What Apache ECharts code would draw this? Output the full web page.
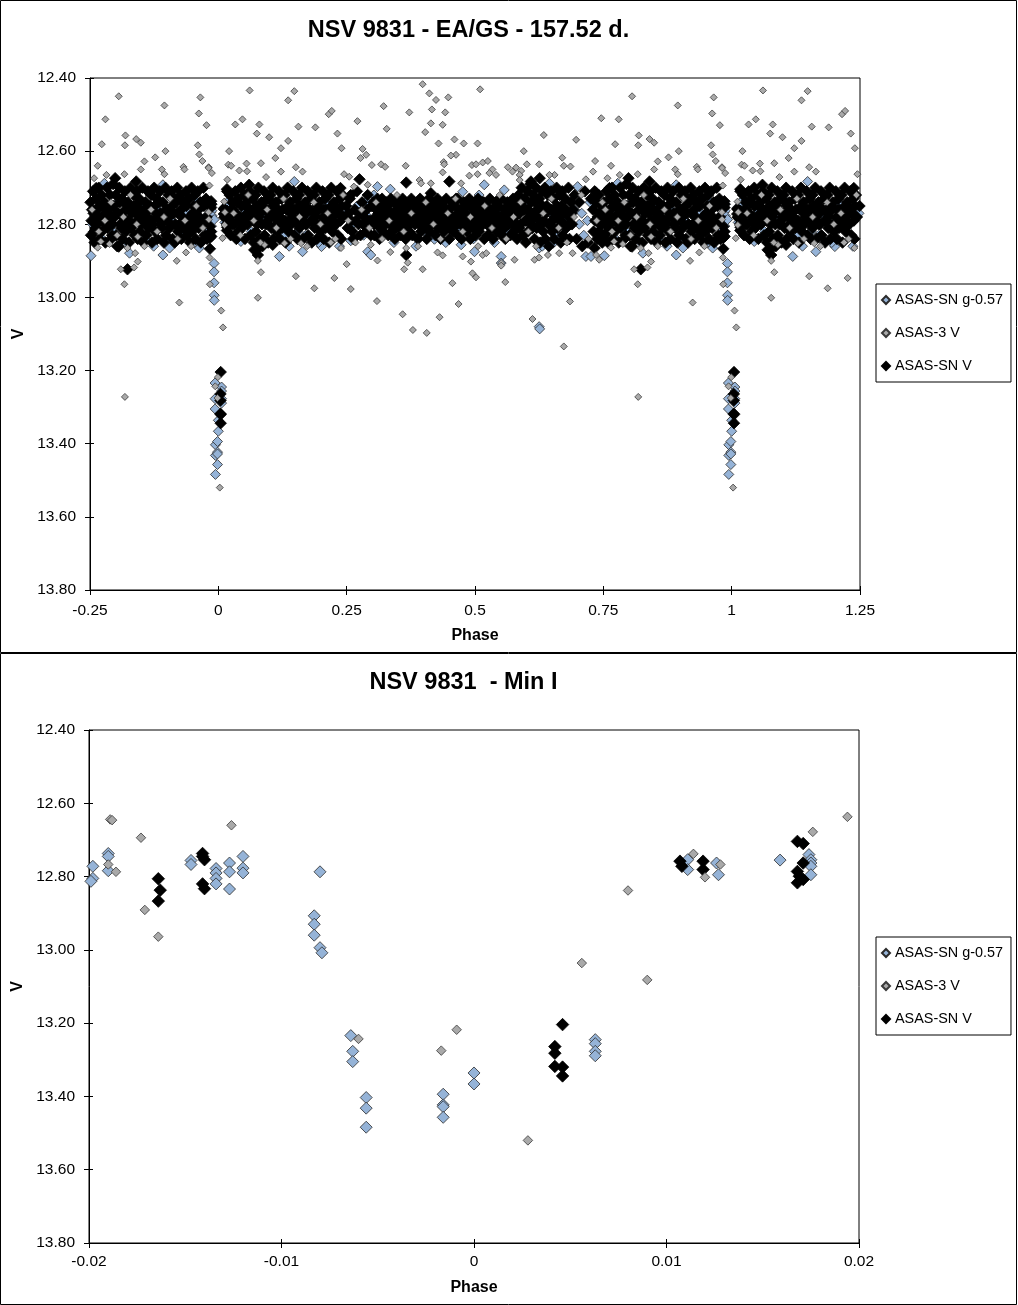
<!DOCTYPE html>
<html><head><meta charset="utf-8">
<script src="https://cdn.jsdelivr.net/npm/echarts@6/dist/echarts.min.js"></script>
<style>html,body{margin:0;padding:0;background:#fff}#c{width:1018px;height:1305px}</style>
</head><body><div id="c"></div>
<script>
const seriesNames = ['ASAS-SN g-0.57', 'ASAS-3 V', 'ASAS-SN V'];
const topTitle = 'NSV 9831 - EA/GS - 157.52 d.';
const bottomTitle = 'NSV 9831  - Min I';
const xName = 'Phase';
const yName = 'V';

// ---- ASAS-SN g-0.57 (phase, mag) ----
const blueMin = [
[-0.0198,12.772],[-0.0198,12.805],[-0.0199,12.813],[-0.0190,12.737],[-0.0190,12.745],[-0.0190,12.784],
[-0.0147,12.756],[-0.0147,12.767],[-0.0134,12.778],[-0.0134,12.790],[-0.0134,12.805],[-0.0134,12.820],
[-0.0127,12.763],[-0.0127,12.787],[-0.0127,12.834],[-0.0120,12.745],[-0.0120,12.777],[-0.0120,12.790],
[-0.0080,12.787],[-0.0083,12.907],[-0.0083,12.930],[-0.0083,12.960],[-0.0080,12.994],[-0.0079,13.008],
[-0.0064,13.234],[-0.0063,13.277],[-0.0063,13.305],[-0.0056,13.403],[-0.0056,13.432],[-0.0056,13.484],
[-0.0016,13.394],[-0.0016,13.423],[-0.0016,13.428],[-0.0016,13.457],[0.0000,13.336],[0.0000,13.366],
[0.0063,13.245],[0.0063,13.256],[0.0063,13.277],[0.0063,13.289],[0.0111,12.754],[0.0111,12.781],
[0.0126,12.763],[0.0127,12.795],[0.0159,12.755],[0.0174,12.740],[0.0175,12.754],[0.0175,12.763],
[0.0175,12.772],[0.0175,12.795]
];
const blueOut = [
[-0.248,12.886],[-0.222,12.688],[-0.108,12.692],[-0.141,12.843],[-0.108,12.884],[-0.095,12.865],
[-0.173,12.879],[-0.037,12.865],[-0.031,12.847],[0.119,12.888],[0.148,12.683],[0.164,12.875],
[0.201,12.861],[0.258,12.845],[0.291,12.875],[0.297,12.884],[0.310,12.697],[0.335,12.704],
[0.288,12.738],[0.421,12.841],[0.473,12.856],[0.499,12.875],[0.476,12.711],[0.129,12.829],
[0.155,12.820],[0.044,12.847],[0.077,12.865],[-0.138,12.711],[0.518,12.692],[0.551,12.888],
[0.551,12.906],[0.557,12.706],[0.625,12.865],[0.645,12.688],[0.652,12.852],[0.716,12.888],
[0.726,12.888],[0.736,12.711],[0.700,12.697],[0.625,13.080],[0.626,13.086]
];
const blueBand = [
[-0.245,12.80],[-0.232,12.76],[-0.226,12.84],[-0.214,12.78],[-0.205,12.82],[-0.196,12.74],[-0.186,12.80],
[-0.178,12.85],[-0.168,12.77],[-0.155,12.83],[-0.147,12.74],[-0.133,12.80],[-0.126,12.86],[-0.117,12.76],
[-0.101,12.84],[-0.090,12.79],[-0.083,12.73],[-0.071,12.82],[-0.059,12.77],[-0.047,12.85],[-0.041,12.74],
[-0.028,12.80],[0.028,12.79],[0.036,12.84],[0.050,12.76],[0.064,12.82],[0.085,12.78],[0.097,12.85],
[0.108,12.74],[0.125,12.80],[0.138,12.86],[0.145,12.76],[0.170,12.83],[0.182,12.78],[0.195,12.85],
[0.208,12.74],[0.224,12.81],[0.236,12.86],[0.248,12.77],[0.262,12.80],[0.270,12.75],[0.283,12.83],
[0.292,12.78],[0.303,12.72],[0.315,12.82],[0.328,12.77],[0.342,12.85],[0.356,12.74],[0.371,12.80],
[0.385,12.86],[0.398,12.76],[0.409,12.83],[0.425,12.78],[0.443,12.85],[0.458,12.74],[0.468,12.81],
[0.484,12.77],[0.497,12.84],[0.508,12.72],[0.522,12.80],[0.538,12.85],[0.546,12.76],[0.563,12.82],
[0.578,12.78],[0.594,12.84],[0.603,12.74],[0.617,12.80],[0.631,12.86],[0.647,12.77],[0.661,12.83],
[0.676,12.79],[0.694,12.76],[0.703,12.80],[0.708,12.77],[0.712,12.83],[0.719,12.79],[0.724,12.74],
[0.739,12.82],[0.745,12.78]
];

// ---- ASAS-3 V ----
const greyMin = [
[-0.0189,12.644],[-0.0188,12.646],[-0.0190,12.767],[-0.0186,12.787],[-0.0173,12.694],[-0.0171,12.891],
[-0.0164,12.964],[-0.0126,12.660],[-0.0060,13.243],[-0.0017,13.275],[-0.0009,13.218],[0.0028,13.520],
[0.0056,13.036],[0.0080,12.838],[0.0090,13.082],[0.0114,12.738],[0.0120,12.802],[0.0128,12.767],
[0.0176,12.678],[0.0194,12.637]
];
const greyOut = [
[-0.194,12.450],[-0.220,12.513],[-0.227,12.581],[-0.181,12.557],[-0.182,12.584],[-0.160,12.567],
[-0.151,12.577],[-0.235,12.640],[-0.242,12.674],[-0.218,12.665],[-0.105,12.475],[-0.103,12.600],
[-0.123,12.617],[-0.144,12.628],[-0.151,12.650],[-0.110,12.650],[-0.105,12.663],[-0.183,12.663],
[-0.035,12.453],[-0.038,12.497],[-0.023,12.529],[-0.040,12.584],[-0.037,12.609],[-0.031,12.627],
[-0.068,12.643],[-0.066,12.650],[0.021,12.600],[0.025,12.640],[0.041,12.653],[0.055,12.634],
[0.056,12.655],[0.061,12.434],[0.033,12.527],[0.047,12.513],[0.080,12.527],[0.075,12.552],
[0.099,12.562],[0.136,12.461],[0.148,12.436],[0.156,12.533],[0.122,12.592],[0.136,12.572],
[0.111,12.619],[0.083,12.633],[0.122,12.656],[0.151,12.644],[0.164,12.656],[0.093,12.671],
[0.189,12.535],[0.215,12.499],[0.221,12.490],[0.232,12.552],[0.240,12.592],[0.271,12.518],
[0.281,12.594],[0.288,12.610],[0.277,12.619],[0.299,12.638],[0.317,12.636],[0.325,12.643],
[0.322,12.477],[0.328,12.539],[0.372,12.494],[0.365,12.640],[0.398,12.417],[0.411,12.442],
[0.424,12.460],[0.448,12.453],[0.416,12.486],[0.442,12.494],[0.414,12.524],[0.437,12.528],
[0.403,12.548],[0.429,12.579],[0.460,12.568],[0.478,12.579],[0.505,12.579],[0.463,12.610],
[0.453,12.612],[0.439,12.630],[0.440,12.636],[0.494,12.638],[0.502,12.636],[0.510,12.431],
[0.437,12.658],[0.489,12.667],[0.392,12.679],[0.395,12.688],[0.414,12.688],[0.245,12.663],
[0.255,12.670],[0.264,12.697],[0.291,12.692],[0.473,12.688],
[-0.235,12.864],[-0.229,12.847],[-0.212,12.854],[-0.190,12.923],[-0.164,12.918],[-0.157,12.902],
[-0.183,12.964],[-0.177,12.865],[-0.162,12.879],[-0.157,12.834],[-0.076,13.014],[-0.081,12.900],
[-0.063,12.877],[0.077,13.001],[0.083,12.931],[0.077,12.900],[0.151,12.942],[0.187,12.975],
[0.226,12.947],[0.250,12.909],[0.258,12.977],[0.309,13.010],[0.310,12.899],[0.335,12.876],
[0.359,13.046],[0.362,12.923],[0.369,12.905],[0.366,12.865],[0.398,12.923],[0.431,13.054],
[0.468,13.018],[0.456,12.961],[0.476,12.888],[0.492,12.902],[0.495,12.934],[0.427,12.877],
[0.437,12.885],[0.090,12.856],[0.129,12.852],[0.161,12.852],[0.219,12.850],[0.239,12.865],
[0.297,12.856],[-0.182,13.272],[0.379,13.089],[0.406,13.097],
[0.515,12.631],[0.525,12.627],[0.505,12.663],[0.534,12.650],[0.541,12.665],[0.528,12.660],
[0.564,12.644],[0.573,12.656],[0.580,12.645],[0.590,12.654],[0.587,12.665],[0.587,12.679],
[0.595,12.600],[0.601,12.636],[0.625,12.636],[0.634,12.556],[0.670,12.618],[0.673,12.640],
[0.686,12.642],[0.697,12.569],[0.716,12.677],[0.734,12.627],[0.730,12.656],[0.746,12.510],
[0.655,12.665],[0.645,12.665],[0.502,12.945],[0.559,12.958],[0.515,12.884],[0.522,12.879],
[0.551,12.906],[0.551,12.913],[0.577,12.897],[0.616,12.897],[0.625,12.891],[0.642,12.884],
[0.664,12.879],[0.685,13.011],[0.612,13.059],[0.673,13.134],[0.690,12.879],[0.742,12.897],
[0.736,12.884]
];
const greyBand = [
[-0.246,12.76],[-0.233,12.82],[-0.221,12.79],[-0.209,12.74],[-0.197,12.83],[-0.185,12.78],[-0.171,12.72],
[-0.159,12.80],[-0.144,12.86],[-0.131,12.76],[-0.119,12.82],[-0.106,12.78],[-0.094,12.73],[-0.079,12.84],
[-0.065,12.79],[-0.053,12.86],[-0.043,12.75],[-0.030,12.81],[0.030,12.77],[0.043,12.83],[0.058,12.72],
[0.069,12.79],[0.082,12.85],[0.095,12.76],[0.113,12.81],[0.127,12.73],[0.141,12.84],[0.158,12.78],
[0.173,12.86],[0.186,12.74],[0.199,12.80],[0.213,12.77],[0.228,12.84],[0.243,12.72],[0.253,12.79],
[0.267,12.85],[0.279,12.76],[0.294,12.81],[0.307,12.74],[0.319,12.84],[0.333,12.79],[0.348,12.72],
[0.361,12.82],[0.376,12.77],[0.389,12.86],[0.404,12.74],[0.419,12.80],[0.433,12.84],[0.447,12.77],
[0.462,12.73],[0.476,12.82],[0.491,12.78],[0.506,12.86],[0.519,12.75],[0.533,12.81],[0.548,12.72],
[0.561,12.84],[0.575,12.78],[0.589,12.74],[0.604,12.82],[0.619,12.86],[0.633,12.77],[0.649,12.73],
[0.663,12.81],[0.679,12.85],[0.693,12.78],[0.707,12.72],[0.721,12.84],[0.737,12.79],[0.748,12.74]
];

// ---- ASAS-SN V ----
const blackMin = [
[-0.0164,12.806],[-0.0163,12.837],[-0.0164,12.867],[-0.0141,12.737],[-0.0141,12.745],[-0.0140,12.754],
[-0.0141,12.820],[-0.0140,12.833],[0.0042,13.264],[0.0042,13.282],[0.0042,13.318],[0.0046,13.204],
[0.0046,13.320],[0.0046,13.344],[0.0107,12.758],[0.0108,12.772],[0.0119,12.758],[0.0119,12.781],
[0.0168,12.704],[0.0171,12.710],[0.0171,12.763],[0.0168,12.786],[0.0169,12.799],[0.0168,12.817],
[0.0171,12.808]
];
const blackOut = [
[-0.201,12.674],[-0.160,12.683],[-0.177,12.923],[-0.194,12.861],[0.060,12.692],[0.070,12.870],
[0.077,12.884],[0.106,12.856],[0.275,12.677],[0.238,12.701],[0.258,12.720],[0.366,12.686],
[0.366,12.884],[0.414,12.715],[0.450,12.683],[-0.238,12.701],[0.626,12.674],[0.609,12.683],
[0.733,12.865]
];
const blackBand = [
[-0.249,12.74],[-0.247,12.79],[-0.248,12.83],[-0.244,12.71],[-0.243,12.77],[-0.242,12.82],[-0.241,12.85],
[-0.238,12.73],[-0.236,12.80],[-0.237,12.76],[-0.233,12.70],[-0.231,12.75],[-0.232,12.84],
[-0.228,12.72],[-0.226,12.79],[-0.227,12.82],[-0.222,12.74],[-0.221,12.77],[-0.220,12.85],
[-0.217,12.70],[-0.215,12.76],[-0.216,12.81],[-0.211,12.72],[-0.210,12.78],[-0.209,12.84],
[-0.205,12.69],[-0.204,12.75],[-0.206,12.80],[-0.200,12.72],[-0.198,12.77],[-0.199,12.83],[-0.197,12.86],
[-0.193,12.70],[-0.192,12.74],[-0.191,12.80],[-0.188,12.73],[-0.186,12.78],[-0.187,12.84],
[-0.182,12.71],[-0.181,12.76],[-0.180,12.82],[-0.176,12.74],[-0.175,12.79],[-0.174,12.85],
[-0.171,12.70],[-0.169,12.77],[-0.170,12.81],[-0.165,12.72],[-0.164,12.75],[-0.163,12.83],
[-0.159,12.71],[-0.158,12.79],[-0.157,12.84],[-0.154,12.73],[-0.152,12.76],[-0.153,12.82],
[-0.148,12.70],[-0.147,12.78],[-0.146,12.85],[-0.142,12.74],[-0.141,12.80],[-0.140,12.83],
[-0.137,12.71],[-0.135,12.76],[-0.136,12.81],[-0.131,12.72],[-0.130,12.79],[-0.129,12.85],
[-0.125,12.70],[-0.124,12.75],[-0.123,12.82],[-0.120,12.73],[-0.118,12.78],[-0.119,12.84],
[-0.114,12.71],[-0.113,12.77],[-0.112,12.80],[-0.108,12.74],[-0.107,12.79],[-0.106,12.85],
[-0.103,12.70],[-0.101,12.76],[-0.102,12.83],[-0.097,12.72],[-0.096,12.78],[-0.095,12.81],
[-0.091,12.71],[-0.090,12.75],[-0.089,12.84],[-0.086,12.73],[-0.084,12.80],[-0.085,12.85],
[-0.080,12.70],[-0.079,12.77],[-0.078,12.82],[-0.074,12.72],[-0.073,12.76],[-0.072,12.84],
[-0.069,12.74],[-0.067,12.79],[-0.068,12.81],[-0.063,12.71],[-0.062,12.75],[-0.061,12.83],
[-0.057,12.73],[-0.056,12.78],[-0.055,12.85],[-0.052,12.70],[-0.050,12.77],[-0.051,12.82],
[-0.046,12.72],[-0.045,12.80],[-0.044,12.84],[-0.040,12.71],[-0.039,12.76],[-0.038,12.81],
[-0.035,12.74],[-0.033,12.79],[-0.034,12.85],[-0.029,12.70],[-0.028,12.75],[-0.027,12.83],
[-0.024,12.73],[-0.023,12.78],[-0.022,12.84],
[0.022,12.72],[0.023,12.78],[0.024,12.83],[0.027,12.74],[0.028,12.80],[0.029,12.76],
[0.033,12.71],[0.034,12.77],[0.035,12.84],[0.038,12.73],[0.040,12.79],[0.039,12.82],
[0.044,12.70],[0.045,12.75],[0.046,12.81],[0.050,12.72],[0.051,12.78],[0.052,12.84],
[0.055,12.74],[0.057,12.80],[0.056,12.77],[0.061,12.71],[0.062,12.76],[0.063,12.83],
[0.067,12.73],[0.068,12.79],[0.069,12.85],[0.072,12.72],[0.074,12.75],[0.073,12.82],[0.075,12.87],
[0.078,12.70],[0.079,12.78],[0.080,12.84],[0.084,12.74],[0.085,12.80],[0.086,12.86],
[0.089,12.71],[0.091,12.76],[0.090,12.83],[0.095,12.73],[0.096,12.79],[0.097,12.85],
[0.101,12.72],[0.102,12.77],[0.103,12.81],[0.106,12.70],[0.108,12.75],[0.107,12.84],
[0.112,12.74],[0.113,12.80],[0.114,12.82],[0.118,12.71],[0.119,12.78],[0.120,12.84],
[0.123,12.73],[0.125,12.76],[0.124,12.81],[0.129,12.72],[0.130,12.79],[0.131,12.85],
[0.135,12.70],[0.136,12.75],[0.137,12.82],[0.140,12.74],[0.142,12.80],[0.141,12.77],
[0.146,12.71],[0.147,12.76],[0.148,12.83],[0.152,12.73],[0.153,12.79],[0.154,12.84],
[0.157,12.72],[0.159,12.75],[0.158,12.81],[0.163,12.70],[0.164,12.78],[0.165,12.84],
[0.169,12.74],[0.170,12.80],[0.171,12.77],[0.174,12.71],[0.176,12.76],[0.175,12.83],
[0.180,12.73],[0.181,12.79],[0.182,12.85],[0.186,12.72],[0.187,12.77],[0.188,12.81],
[0.191,12.70],[0.193,12.75],[0.192,12.84],[0.197,12.74],[0.198,12.80],[0.199,12.82],
[0.203,12.71],[0.204,12.78],[0.205,12.84],[0.208,12.73],[0.210,12.76],[0.209,12.81],
[0.214,12.72],[0.215,12.79],[0.216,12.85],[0.220,12.70],[0.221,12.75],[0.222,12.82],
[0.225,12.74],[0.227,12.80],[0.226,12.77],[0.231,12.71],[0.232,12.76],[0.233,12.83],
[0.237,12.73],[0.238,12.79],[0.239,12.84],[0.242,12.72],[0.244,12.78],
[0.249,12.75],[0.252,12.81],[0.256,12.73],[0.259,12.79],[0.263,12.84],[0.266,12.76],[0.270,12.71],
[0.273,12.80],[0.277,12.83],[0.280,12.74],[0.284,12.78],[0.288,12.82],[0.291,12.72],[0.295,12.79],[0.299,12.75],
[0.302,12.74],[0.303,12.80],[0.304,12.83],[0.308,12.76],[0.309,12.79],[0.310,12.73],
[0.313,12.75],[0.315,12.81],[0.314,12.84],[0.319,12.73],[0.320,12.78],[0.321,12.82],
[0.325,12.76],[0.326,12.80],[0.327,12.74],[0.330,12.75],[0.332,12.79],[0.331,12.83],
[0.336,12.73],[0.337,12.77],[0.338,12.82],[0.342,12.74],[0.343,12.80],[0.344,12.84],
[0.347,12.76],[0.349,12.78],[0.348,12.73],[0.353,12.75],[0.354,12.81],[0.355,12.83],
[0.359,12.73],[0.360,12.79],[0.361,12.76],[0.364,12.74],[0.366,12.80],[0.365,12.84],
[0.370,12.75],[0.371,12.78],[0.372,12.82],[0.376,12.73],[0.377,12.77],[0.378,12.83],
[0.381,12.76],[0.383,12.80],[0.382,12.74],[0.387,12.75],[0.388,12.79],[0.389,12.84],
[0.393,12.73],[0.394,12.78],[0.395,12.82],[0.398,12.74],[0.400,12.80],[0.399,12.76],
[0.404,12.75],[0.405,12.81],[0.406,12.84],[0.410,12.73],[0.411,12.77],[0.412,12.82],
[0.415,12.76],[0.417,12.79],[0.416,12.74],[0.421,12.75],[0.422,12.80],[0.423,12.83],
[0.427,12.73],[0.428,12.78],[0.429,12.81],[0.432,12.74],[0.434,12.76],[0.433,12.84],
[0.438,12.75],[0.439,12.80],[0.440,12.82],[0.444,12.73],[0.445,12.79],[0.446,12.77],
[0.449,12.76],[0.451,12.81],[0.450,12.84],[0.455,12.74],[0.456,12.78],[0.457,12.82],
[0.461,12.75],[0.462,12.80],[0.463,12.73],[0.466,12.73],[0.468,12.77],[0.467,12.83],
[0.472,12.76],[0.473,12.79],[0.474,12.84],[0.478,12.74],[0.479,12.81],[0.480,12.77],
[0.483,12.75],[0.485,12.78],[0.484,12.82],[0.489,12.73],[0.490,12.80],[0.491,12.84],
[0.495,12.74],[0.496,12.76],[0.497,12.81],[0.500,12.75],[0.502,12.79],[0.501,12.83],
[0.506,12.73],[0.507,12.78],[0.508,12.82],[0.512,12.76],[0.513,12.80],[0.514,12.74],
[0.517,12.74],[0.519,12.77],[0.518,12.84],
[0.523,12.75],[0.524,12.80],[0.525,12.83],[0.529,12.73],[0.530,12.78],[0.531,12.81],
[0.534,12.76],[0.536,12.79],[0.535,12.84],[0.540,12.74],[0.541,12.77],[0.542,12.82],
[0.546,12.75],[0.547,12.80],[0.548,12.73],[0.551,12.73],[0.553,12.78],[0.552,12.83],
[0.557,12.76],[0.558,12.81],[0.559,12.84],[0.563,12.74],[0.564,12.77],[0.565,12.80],
[0.568,12.75],[0.570,12.79],[0.569,12.83],[0.574,12.73],[0.575,12.76],[0.576,12.82],
[0.580,12.74],[0.581,12.80],[0.582,12.84],[0.585,12.72],[0.587,12.77],[0.586,12.81],
[0.591,12.70],[0.592,12.75],[0.593,12.83],[0.597,12.73],[0.598,12.79],[0.599,12.85],
[0.602,12.71],[0.604,12.76],[0.603,12.82],[0.608,12.69],[0.609,12.74],[0.610,12.80],
[0.614,12.72],[0.615,12.78],[0.616,12.84],[0.619,12.70],[0.621,12.76],[0.620,12.81],
[0.625,12.73],[0.626,12.79],[0.627,12.85],[0.631,12.71],[0.632,12.75],[0.633,12.82],
[0.636,12.70],[0.638,12.77],[0.637,12.84],[0.642,12.72],[0.643,12.80],[0.644,12.86],
[0.648,12.71],[0.649,12.76],[0.650,12.82],[0.653,12.73],[0.655,12.78],[0.654,12.84],
[0.659,12.70],[0.660,12.75],[0.661,12.81],[0.665,12.72],[0.666,12.79],[0.667,12.85],
[0.670,12.71],[0.672,12.77],[0.671,12.83],[0.676,12.73],[0.677,12.76],[0.678,12.81],
[0.682,12.70],[0.683,12.78],[0.684,12.84],[0.687,12.74],[0.689,12.80],[0.688,12.77],
[0.694,12.72],[0.698,12.84],[0.703,12.74],[0.709,12.86],[0.714,12.71],[0.720,12.85],[0.726,12.73],
[0.730,12.76],[0.731,12.82],[0.733,12.71],[0.736,12.74],[0.737,12.79],[0.738,12.84],
[0.741,12.72],[0.743,12.77],[0.742,12.82],[0.746,12.75],[0.747,12.80],[0.748,12.85]
];
// further ASAS-SN V points filling the crowded part of the band
const blackBandFill = [
[-0.246,12.76],[-0.239,12.81],[-0.234,12.78],[-0.225,12.75],[-0.219,12.80],[-0.213,12.76],[-0.207,12.83],
[-0.202,12.78],[-0.195,12.77],[-0.189,12.81],[-0.184,12.74],[-0.178,12.80],[-0.172,12.76],[-0.167,12.80],
[-0.161,12.77],[-0.155,12.74],[-0.150,12.80],[-0.144,12.76],[-0.139,12.78],[-0.133,12.75],[-0.127,12.80],
[-0.122,12.77],[-0.116,12.74],[-0.110,12.81],[-0.104,12.78],[-0.099,12.76],[-0.093,12.80],[-0.087,12.77],
[-0.082,12.74],[-0.076,12.80],[-0.070,12.78],[-0.065,12.81],[-0.059,12.73],[-0.053,12.80],[-0.048,12.75],
[-0.042,12.79],[-0.037,12.78],[-0.031,12.74],[-0.026,12.80],
[0.025,12.76],[0.031,12.80],[0.036,12.74],[0.042,12.78],[0.048,12.80],[0.053,12.75],[0.059,12.79],
[0.065,12.78],[0.070,12.76],[0.076,12.80],[0.082,12.77],[0.087,12.75],[0.093,12.80],[0.099,12.78],
[0.104,12.74],[0.110,12.78],[0.116,12.76],[0.121,12.81],[0.127,12.79],[0.133,12.76],[0.138,12.80],
[0.144,12.78],[0.150,12.76],[0.155,12.80],[0.161,12.77],[0.167,12.75],[0.172,12.80],[0.178,12.76],
[0.184,12.79],[0.189,12.78],[0.195,12.76],[0.201,12.80],[0.206,12.76],[0.212,12.78],[0.218,12.81],
[0.223,12.78],[0.229,12.80],[0.235,12.77],[0.240,12.75],
[0.254,12.77],[0.261,12.82],[0.268,12.79],[0.275,12.77],[0.282,12.80],[0.289,12.76],[0.297,12.83],
[0.306,12.78],[0.312,12.77],[0.317,12.80],[0.323,12.78],[0.329,12.77],[0.334,12.80],[0.340,12.78],
[0.346,12.81],[0.351,12.78],[0.357,12.80],[0.363,12.77],[0.368,12.79],[0.374,12.80],[0.380,12.78],
[0.385,12.77],[0.391,12.80],[0.397,12.78],[0.402,12.77],[0.408,12.79],[0.414,12.80],[0.419,12.78],
[0.425,12.77],[0.431,12.80],[0.436,12.78],[0.442,12.76],[0.448,12.79],[0.453,12.80],[0.459,12.78],
[0.465,12.80],[0.470,12.79],[0.476,12.77],[0.482,12.80],[0.487,12.78],[0.493,12.79],[0.499,12.77],
[0.504,12.80],[0.510,12.78],[0.516,12.80],
[0.521,12.78],[0.527,12.76],[0.533,12.81],[0.538,12.79],[0.544,12.78],[0.550,12.80],[0.555,12.78],
[0.561,12.80],[0.567,12.77],[0.572,12.80],[0.578,12.78],[0.584,12.76],[0.589,12.80],[0.595,12.76],
[0.600,12.79],[0.606,12.77],[0.612,12.81],[0.617,12.74],[0.623,12.77],[0.629,12.80],[0.634,12.79],
[0.640,12.75],[0.646,12.80],[0.651,12.79],[0.657,12.76],[0.663,12.78],[0.668,12.75],[0.674,12.80],
[0.680,12.77],[0.685,12.80],[0.691,12.76],
[0.734,12.79],[0.739,12.78],[0.744,12.80],[0.749,12.77]
];

const blueAll = blueMin.concat(blueOut, blueBand);
const greyAll = greyMin.concat(greyOut, greyBand);
const blackAll = blackMin.concat(blackOut, blackBand, blackBandFill);

// phase diagram repeats the cycle: points before phase 0.25 are shown again one cycle later
function foldCycle(arr) {
  return arr.concat(arr.filter(d => d[0] < 0.25).map(d => [Math.round((d[0] + 1) * 10000) / 10000, d[1]]));
}
function nearMin(arr) { return arr.filter(d => Math.abs(d[0]) <= 0.0202); }

const FF = '"Liberation Sans", Arial, Helvetica, sans-serif';
const fmtX = v => String(Math.round(v * 1000) / 1000);
const fmtY = v => v.toFixed(2);

function xAxes(gi, min, max, interval, nameGap, margin) {
  return [{
    gridIndex: gi, type: 'value', position: 'bottom', min, max, interval,
    axisLine: { show: true, onZero: false, lineStyle: { color: '#000', width: 1 } },
    axisTick: { show: true, inside: false, length: 5, lineStyle: { color: '#000', width: 1 } },
    axisLabel: { margin, fontSize: 15.5, color: '#000', fontFamily: FF, formatter: fmtX },
    splitLine: { show: false },
    name: xName, nameLocation: 'middle', nameGap,
    nameTextStyle: { fontWeight: 'bold', fontSize: 16, color: '#000', fontFamily: FF }
  }, {
    gridIndex: gi, type: 'value', position: 'bottom', min, max, interval,
    axisLine: { show: false, onZero: false }, axisLabel: { show: false }, splitLine: { show: false },
    axisTick: { show: true, inside: true, length: 4, lineStyle: { color: '#000', width: 1 } }
  }];
}
function yAxes(gi) {
  return [{
    gridIndex: gi, type: 'value', position: 'left', inverse: true, min: 12.4, max: 13.8, interval: 0.2,
    axisLine: { show: true, onZero: false, lineStyle: { color: '#000', width: 1 } },
    axisTick: { show: true, inside: false, length: 5, lineStyle: { color: '#000', width: 1 } },
    axisLabel: { margin: 14, fontSize: 15.5, color: '#000', fontFamily: FF, formatter: fmtY },
    splitLine: { show: false },
    name: yName, nameLocation: 'middle', nameGap: 60, nameRotate: 90,
    nameTextStyle: { fontWeight: 'bold', fontSize: 16, color: '#000', fontFamily: FF }
  }, {
    gridIndex: gi, type: 'value', position: 'left', inverse: true, min: 12.4, max: 13.8, interval: 0.2,
    axisLine: { show: false, onZero: false }, axisLabel: { show: false }, splitLine: { show: false },
    axisTick: { show: true, inside: true, length: 4, lineStyle: { color: '#000', width: 1 } }
  }];
}

const styles = {
  blue: { color: '#95B3D7', borderColor: '#2b2b2b', borderWidth: 0.8, opacity: 1 },
  grey: { color: '#A9A9A9', borderColor: '#3a3a3a', borderWidth: 0.8, opacity: 1 },
  black: { color: '#000000', borderColor: '#000000', borderWidth: 0.8, opacity: 1 }
};

function mkSeries(name, gi, data, size, style) {
  return {
    name, type: 'scatter', xAxisIndex: gi * 2, yAxisIndex: gi * 2, data,
    symbol: 'diamond', symbolSize: size, itemStyle: style,
    silent: true, animation: false, emphasis: { disabled: true }, clip: true
  };
}

function mkLegend(top) {
  return {
    orient: 'vertical', left: 876, top, padding: [9, 8, 9, 5], itemGap: 19,
    itemWidth: 8, itemHeight: 8, borderColor: '#000', borderWidth: 1, backgroundColor: '#fff',
    selectedMode: false,
    textStyle: { fontSize: 14.4, fontFamily: FF, color: '#000', lineHeight: 14 },
    data: seriesNames
  };
}

const chart = echarts.init(document.getElementById('c'), null, { renderer: 'canvas' });
chart.setOption({
  animation: false,
  backgroundColor: '#fff',
  grid: [
    { left: 90, top: 78, width: 770, height: 512, show: true, borderColor: '#000', borderWidth: 1, backgroundColor: 'transparent' },
    { left: 89, top: 730, width: 770, height: 513, show: true, borderColor: '#000', borderWidth: 1, backgroundColor: 'transparent' }
  ],
  xAxis: xAxes(0, -0.25, 1.25, 0.25, 38, 13).concat(xAxes(1, -0.02, 0.02, 0.01, 37, 11)),
  yAxis: yAxes(0).concat(yAxes(1)),
  legend: [mkLegend(284), mkLegend(937)],
  graphic: [
    { type: 'rect', shape: { x: 0.5, y: 0.5, width: 1016, height: 652 }, style: { fill: 'none', stroke: '#000', lineWidth: 1 }, silent: true, z: -1 },
    { type: 'rect', shape: { x: 0.5, y: 653.5, width: 1016, height: 651 }, style: { fill: 'none', stroke: '#000', lineWidth: 1 }, silent: true, z: -1 },
    { type: 'text', x: 468.5, y: 31, style: { text: topTitle, fill: '#000', font: 'bold 23.5px ' + FF, textAlign: 'center', textVerticalAlign: 'middle' }, silent: true },
    { type: 'text', x: 463.5, y: 683, style: { text: bottomTitle, fill: '#000', font: 'bold 23.5px ' + FF, textAlign: 'center', textVerticalAlign: 'middle' }, silent: true }
  ],
  series: [
    mkSeries(seriesNames[0], 0, foldCycle(blueAll), 10, styles.blue),
    mkSeries(seriesNames[2], 0, foldCycle(blackAll), 11.5, styles.black),
    mkSeries(seriesNames[1], 0, foldCycle(greyAll), 7, styles.grey),
    mkSeries(seriesNames[0], 1, nearMin(blueAll), 12, styles.blue),
    mkSeries(seriesNames[2], 1, nearMin(blackAll), 12.5, styles.black),
    mkSeries(seriesNames[1], 1, nearMin(greyAll), 9.5, styles.grey)
  ]
});
</script>
</body></html>
